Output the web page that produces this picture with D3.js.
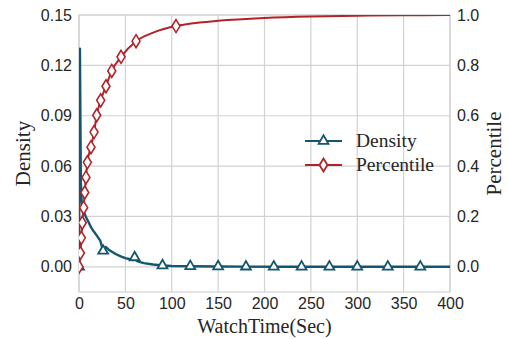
<!DOCTYPE html>
<html>
<head>
<meta charset="utf-8">
<script src="https://cdn.jsdelivr.net/npm/d3@7"></script>
<style>
  html, body { margin: 0; padding: 0; background: #fff; }
  svg { display: block; }
</style>
</head>
<body>
<div id="chart"></div>
<script>
// WatchTime density + cumulative percentile, twin y axes
const xTicks = [0, 50, 100, 150, 200, 250, 300, 350, 400];
const densityTicks = [0.00, 0.03, 0.06, 0.09, 0.12, 0.15];
const pctTicks = [0.0, 0.2, 0.4, 0.6, 0.8, 1.0];

// density curve (noisy kde)
const densityX = [0, 1, 2, 3, 5, 8, 10, 13, 16, 20, 23, 26, 29, 32, 36, 40, 45, 50, 55, 58, 60, 62, 66, 70, 80, 90, 100, 120, 150, 180, 210, 240, 270, 300, 333, 368, 400];
const densityY = [0.0, 0.13, 0.05, 0.038, 0.033, 0.029, 0.027, 0.0235, 0.021, 0.018, 0.0155, 0.0095, 0.0118, 0.0102, 0.0088, 0.0075, 0.0062, 0.0052, 0.0045, 0.0042, 0.0056, 0.0036, 0.0028, 0.0022, 0.0014, 0.0008, 0.0005, 0.0003, 0.0002, 0.0001, 0.00005, 0, 0, 0, 0, 0, 0];
const densityMarks = [0, 11, 20, 25, 27, 28, 29, 30, 31, 32, 33, 34, 35];

// cumulative percentile
const pctX = [0, 1.5, 2.5, 3.5, 5, 6.2, 7.5, 9, 12.9, 16.2, 19.1, 23.4, 29.1, 35.3, 45.3, 61.5, 80, 104.6, 130, 150, 200, 250, 300, 350, 400];
const pctY = [0, 0.055, 0.115, 0.175, 0.235, 0.295, 0.355, 0.415, 0.475, 0.535, 0.602, 0.661, 0.717, 0.778, 0.834, 0.896, 0.93, 0.956, 0.97, 0.977, 0.988, 0.994, 0.997, 0.999, 1.0];
const pctMarks = [0, 1, 2, 3, 4, 5, 6, 7, 8, 9, 10, 11, 12, 13, 14, 15, 17];

const W = 508, H = 339;
const margin = { top: 15, right: 58, bottom: 47, left: 79 };
const iw = W - margin.left - margin.right;
const ih = H - margin.top - margin.bottom;

const BLUE = '#125670';
const RED = '#b22328';
const GRID = '#d2d2d2';
const SANS = '"Liberation Sans", Arial, sans-serif';
const SERIF = '"Liberation Serif", "Times New Roman", serif';

const svg = d3.select('#chart').append('svg')
  .attr('width', W)
  .attr('height', H);

const g = svg.append('g')
  .attr('transform', `translate(${margin.left},${margin.top})`);

const x = d3.scaleLinear().domain([0, 400]).range([0, iw]);
const yL = d3.scaleLinear().domain([-0.015, 0.15]).range([ih, 0]);
const yR = d3.scaleLinear().domain([-0.1, 1.0]).range([ih, 0]);

// grid
g.append('g').selectAll('line.vg')
  .data(xTicks).enter().append('line')
  .attr('x1', d => x(d)).attr('x2', d => x(d))
  .attr('y1', 0).attr('y2', ih)
  .attr('stroke', GRID).attr('stroke-width', 1.2);

g.append('g').selectAll('line.hg')
  .data(densityTicks).enter().append('line')
  .attr('x1', 0).attr('x2', iw)
  .attr('y1', d => yL(d)).attr('y2', d => yL(d))
  .attr('stroke', GRID).attr('stroke-width', 1.2);

// frame
g.append('rect')
  .attr('width', iw).attr('height', ih)
  .attr('fill', 'none')
  .attr('stroke', GRID).attr('stroke-width', 1.2);

// axes
function styleAxis(sel) {
  sel.select('.domain').remove();
  sel.selectAll('text')
    .attr('font-family', SANS)
    .attr('font-size', '16px')
    .attr('fill', '#262626');
}

g.append('g')
  .attr('transform', `translate(0,${ih})`)
  .call(d3.axisBottom(x).tickValues(xTicks).tickSize(0).tickPadding(6).tickFormat(d3.format('d')))
  .call(styleAxis);

g.append('g')
  .call(d3.axisLeft(yL).tickValues(densityTicks).tickSize(0).tickPadding(7).tickFormat(d3.format('.2f')))
  .call(styleAxis);

g.append('g')
  .attr('transform', `translate(${iw},0)`)
  .call(d3.axisRight(yR).tickValues(pctTicks).tickSize(0).tickPadding(7).tickFormat(d3.format('.1f')))
  .call(styleAxis);

// axis titles
svg.append('text')
  .attr('x', margin.left + iw / 2)
  .attr('y', 333)
  .attr('text-anchor', 'middle')
  .attr('font-family', SERIF)
  .attr('font-size', '20px')
  .attr('fill', '#262626')
  .text('WatchTime(Sec)');

svg.append('text')
  .attr('transform', `translate(30,${margin.top + ih / 2}) rotate(-90)`)
  .attr('text-anchor', 'middle')
  .attr('font-family', SERIF)
  .attr('font-size', '21px')
  .attr('fill', '#262626')
  .text('Density');

svg.append('text')
  .attr('transform', `translate(501,${margin.top + ih / 2}) rotate(-90)`)
  .attr('text-anchor', 'middle')
  .attr('font-family', SERIF)
  .attr('font-size', '21px')
  .attr('fill', '#262626')
  .text('Percentile');

// clip to plot area
svg.append('defs').append('clipPath').attr('id', 'plot-clip')
  .append('rect').attr('width', iw).attr('height', ih);

const plot = g.append('g').attr('clip-path', 'url(#plot-clip)');

const tri = d3.symbol().type(d3.symbolTriangle).size(42);
const diamondPath = 'M0,-6.5L4,0L0,6.5L-4,0Z';

// density
const densityPts = densityX.map((v, i) => ({ x: v, y: densityY[i] }));
plot.append('path')
  .datum(densityPts)
  .attr('fill', 'none')
  .attr('stroke', BLUE)
  .attr('stroke-width', 2.4)
  .attr('stroke-linejoin', 'round')
  .attr('d', d3.line().x(d => x(d.x)).y(d => yL(d.y)));

plot.selectAll('.tri')
  .data(densityMarks.map(i => densityPts[i]))
  .enter().append('path')
  .attr('class', 'tri')
  .attr('transform', d => `translate(${x(d.x)},${yL(d.y)})`)
  .attr('d', tri)
  .attr('fill', '#fff')
  .attr('stroke', BLUE)
  .attr('stroke-width', 1.8);

// percentile
const pctPts = pctX.map((v, i) => ({ x: v, y: pctY[i] }));
plot.append('path')
  .datum(pctPts)
  .attr('fill', 'none')
  .attr('stroke', RED)
  .attr('stroke-width', 2)
  .attr('d', d3.line().x(d => x(d.x)).y(d => yR(d.y)).curve(d3.curveMonotoneX));

plot.selectAll('.dia')
  .data(pctMarks.map(i => pctPts[i]))
  .enter().append('path')
  .attr('class', 'dia')
  .attr('transform', d => `translate(${x(d.x)},${yR(d.y)})`)
  .attr('d', diamondPath)
  .attr('fill', '#fff')
  .attr('stroke', RED)
  .attr('stroke-width', 1.6);

// legend
const legend = [
  { name: 'Density', color: BLUE, mark: tri(), y: 141 },
  { name: 'Percentile', color: RED, mark: diamondPath, y: 165 }
];
const lg = svg.append('g');
legend.forEach(l => {
  lg.append('line')
    .attr('x1', 305).attr('x2', 342)
    .attr('y1', l.y).attr('y2', l.y)
    .attr('stroke', l.color).attr('stroke-width', 2);
  lg.append('path')
    .attr('transform', `translate(323.5,${l.y})`)
    .attr('d', l.mark)
    .attr('fill', '#fff')
    .attr('stroke', l.color)
    .attr('stroke-width', 1.8);
  lg.append('text')
    .attr('x', 356)
    .attr('y', l.y + 6)
    .attr('font-family', SERIF)
    .attr('font-size', '19.5px')
    .attr('fill', '#262626')
    .text(l.name);
});
</script>
</body>
</html>
